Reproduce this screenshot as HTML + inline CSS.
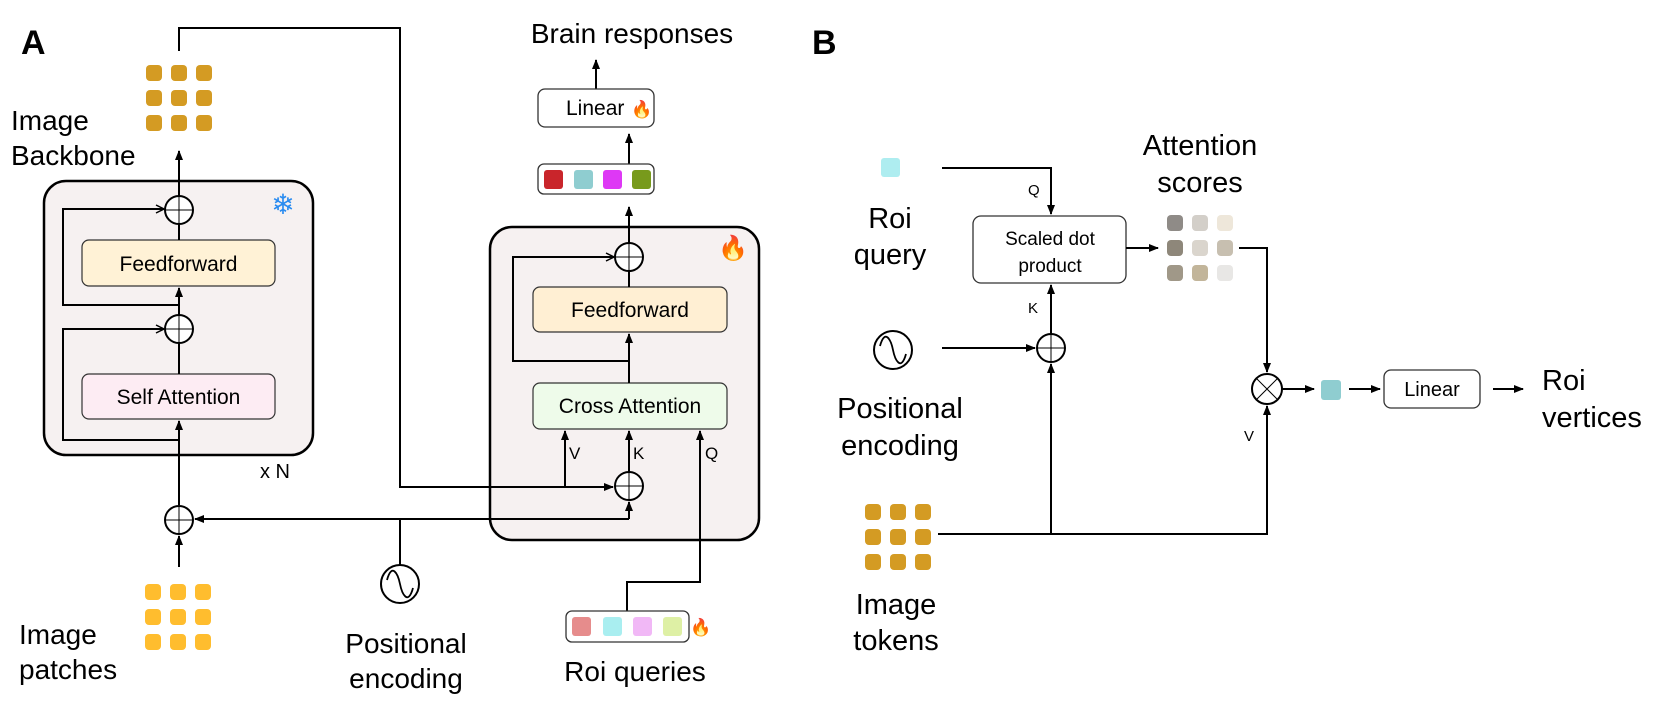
<!DOCTYPE html>
<html><head><meta charset="utf-8"><style>
html,body{margin:0;padding:0;background:#fff;}
svg{display:block;font-family:"Liberation Sans",sans-serif;}
</style></head><body>
<svg width="1661" height="703" viewBox="0 0 1661 703" xmlns="http://www.w3.org/2000/svg">
<defs>
<marker id="a" markerWidth="10" markerHeight="10" refX="9" refY="5" orient="auto" markerUnits="userSpaceOnUse"><path d="M0,1 L10,5 L0,9 Z" fill="#000"/></marker>
<marker id="o" markerWidth="10" markerHeight="10" refX="9" refY="5" orient="auto" markerUnits="userSpaceOnUse"><path d="M1,1 L9,5 L1,9" fill="none" stroke="#000" stroke-width="1.5"/></marker>
<g id="plus"><circle r="14" fill="#fff" stroke="#000" stroke-width="2"/><path d="M-14,0H14M0,-14V14" stroke="#000" stroke-width="1"/></g>
<g id="wave"><circle r="19" fill="#fff" stroke="#000" stroke-width="2"/><path d="M-13,-4 C-8,-22 -2,-10 0,0 C2,10 8,22 13,4" fill="none" stroke="#000" stroke-width="1.8"/></g>
</defs>

<g fill="#000" stroke="none">
<text x="21" y="54" font-size="34" font-weight="bold">A</text>
<text x="812" y="54" font-size="34" font-weight="bold">B</text>
</g>

<!-- Panel A boxes -->
<rect x="44" y="181" width="269" height="274" rx="22" fill="#F6F1F1" stroke="#000" stroke-width="2.5"/>
<rect x="490" y="227" width="269" height="313" rx="22" fill="#F6F1F1" stroke="#000" stroke-width="2.5"/>
<rect x="82" y="240" width="193" height="46" rx="7" fill="#FFF2D6" stroke="#333" stroke-width="1.2"/>
<text x="178.5" y="271" font-size="21" text-anchor="middle">Feedforward</text>
<rect x="82" y="374" width="193" height="45" rx="7" fill="#FDECF3" stroke="#333" stroke-width="1.2"/>
<text x="178.5" y="404" font-size="21" text-anchor="middle">Self Attention</text>
<g stroke="#000" stroke-width="2" fill="none">
<path d="M179,505 V421" marker-end="url(#a)"/>
<path d="M179,374 V343"/>
<path d="M179,315 V288" marker-end="url(#a)"/>
<path d="M179,240 V224"/>
<path d="M179,196 V151" marker-end="url(#a)"/>
<path d="M179,440 H63 V329 H164" marker-end="url(#o)"/>
<path d="M179,305 H63 V209 H164" marker-end="url(#o)"/>
<path d="M179,51 V28 H400 V487 H613" marker-end="url(#a)"/>
<path d="M629,519 H195" marker-end="url(#a)"/>
<path d="M629,519 V502" marker-end="url(#a)"/>
<path d="M400,519 V565"/>
<path d="M179,567 V536" marker-end="url(#a)"/>
</g>
<use href="#plus" x="179" y="210"/>
<use href="#plus" x="179" y="329"/>
<use href="#plus" x="179" y="520"/>
<use href="#wave" x="400" y="584"/>
<text x="283" y="214" font-size="28" fill="#2B8CF0" text-anchor="middle">❄</text>
<text x="260" y="478" font-size="20">x N</text>

<g fill="#D49B23">
<rect x="146" y="65" width="16" height="16" rx="4"/><rect x="171" y="65" width="16" height="16" rx="4"/><rect x="196" y="65" width="16" height="16" rx="4"/>
<rect x="146" y="90" width="16" height="16" rx="4"/><rect x="171" y="90" width="16" height="16" rx="4"/><rect x="196" y="90" width="16" height="16" rx="4"/>
<rect x="146" y="115" width="16" height="16" rx="4"/><rect x="171" y="115" width="16" height="16" rx="4"/><rect x="196" y="115" width="16" height="16" rx="4"/>
</g>
<g fill="#FFBD2E">
<rect x="145" y="584" width="16" height="16" rx="4"/><rect x="170" y="584" width="16" height="16" rx="4"/><rect x="195" y="584" width="16" height="16" rx="4"/>
<rect x="145" y="609" width="16" height="16" rx="4"/><rect x="170" y="609" width="16" height="16" rx="4"/><rect x="195" y="609" width="16" height="16" rx="4"/>
<rect x="145" y="634" width="16" height="16" rx="4"/><rect x="170" y="634" width="16" height="16" rx="4"/><rect x="195" y="634" width="16" height="16" rx="4"/>
</g>
<g font-size="28" fill="#000">
<text x="11" y="130">Image</text>
<text x="11" y="165">Backbone</text>
<text x="19" y="644">Image</text>
<text x="19" y="679">patches</text>
<text x="406" y="653" text-anchor="middle">Positional</text>
<text x="406" y="688" text-anchor="middle">encoding</text>
<text x="632" y="43" text-anchor="middle">Brain responses</text>
<text x="635" y="681" text-anchor="middle">Roi queries</text>
</g>

<!-- Panel A right box contents -->
<text x="733" y="256" font-size="24" text-anchor="middle">🔥</text>
<rect x="533" y="287" width="194" height="45" rx="7" fill="#FFEFD3" stroke="#333" stroke-width="1.2"/>
<text x="630" y="317" font-size="21" text-anchor="middle">Feedforward</text>
<rect x="533" y="383" width="194" height="46" rx="7" fill="#EEFBEA" stroke="#333" stroke-width="1.2"/>
<text x="630" y="413" font-size="21" text-anchor="middle">Cross Attention</text>
<g stroke="#000" stroke-width="2" fill="none">
<path d="M565,487 V431" marker-end="url(#a)"/>
<path d="M629,472 V431" marker-end="url(#a)"/>
<path d="M627,611 V582 H700 V431" marker-end="url(#a)"/>
<path d="M629,383 V334" marker-end="url(#a)"/>
<path d="M629,361 H513 V257 H614" marker-end="url(#o)"/>
<path d="M629,287 V271"/>
<path d="M629,243 V207" marker-end="url(#a)"/>
<path d="M629,174 V134" marker-end="url(#a)"/>
<path d="M596,94 V60" marker-end="url(#a)"/>
</g>
<use href="#plus" x="629" y="257"/>
<use href="#plus" x="629" y="486"/>
<g font-size="17"><text x="569" y="459">V</text><text x="633" y="459">K</text><text x="705" y="459">Q</text></g>
<rect x="538" y="89" width="116" height="38" rx="7" fill="#fff" stroke="#333" stroke-width="1.3"/>
<text x="566" y="115" font-size="21">Linear</text>
<text x="642" y="115" font-size="17" text-anchor="middle">🔥</text>
<rect x="538" y="164" width="116" height="30" rx="6" fill="#fff" stroke="#333" stroke-width="1.3"/>
<rect x="544" y="170" width="19" height="19" rx="3" fill="#C9252B"/>
<rect x="574" y="170" width="19" height="19" rx="3" fill="#8FCDD0"/>
<rect x="603" y="170" width="19" height="19" rx="3" fill="#DE38F5"/>
<rect x="632" y="170" width="19" height="19" rx="3" fill="#789A1C"/>
<rect x="566" y="611" width="123" height="31" rx="6" fill="#fff" stroke="#333" stroke-width="1.3"/>
<rect x="572" y="617" width="19" height="19" rx="3" fill="#E68C8C"/>
<rect x="603" y="617" width="19" height="19" rx="3" fill="#A9EEF0"/>
<rect x="633" y="617" width="19" height="19" rx="3" fill="#F1B8F6"/>
<rect x="663" y="617" width="19" height="19" rx="3" fill="#DEF0A5"/>
<text x="701" y="633" font-size="17" text-anchor="middle">🔥</text>

<!-- Panel B -->
<rect x="881" y="158" width="19" height="19" rx="3" fill="#AEEDF0"/>
<g font-size="29" fill="#000" text-anchor="middle">
<text x="890" y="228">Roi</text>
<text x="890" y="264">query</text>
<text x="900" y="418">Positional</text>
<text x="900" y="455">encoding</text>
<text x="896" y="614">Image</text>
<text x="896" y="650">tokens</text>
<text x="1200" y="155">Attention</text>
<text x="1200" y="192">scores</text>
</g>
<text x="1542" y="390" font-size="29">Roi</text>
<text x="1542" y="427" font-size="29">vertices</text>
<rect x="973" y="216" width="153" height="67" rx="8" fill="#fff" stroke="#333" stroke-width="1.3"/>
<text x="1050" y="245" font-size="19" text-anchor="middle">Scaled dot</text>
<text x="1050" y="272" font-size="19" text-anchor="middle">product</text>
<g stroke="#000" stroke-width="2" fill="none">
<path d="M942,168 H1051 V214" marker-end="url(#a)"/>
<path d="M1126,248 H1158" marker-end="url(#a)"/>
<path d="M942,348 H1035" marker-end="url(#a)"/>
<path d="M1051,334 V285" marker-end="url(#a)"/>
<path d="M1051,534 V364" marker-end="url(#a)"/>
<path d="M938,534 H1267 V406" marker-end="url(#a)"/>
<path d="M1239,248 H1267 V372" marker-end="url(#a)"/>
<path d="M1282,389 H1314" marker-end="url(#a)"/>
<path d="M1349,389 H1380" marker-end="url(#a)"/>
<path d="M1493,389 H1523" marker-end="url(#a)"/>
</g>
<use href="#plus" x="1051" y="348"/>
<use href="#wave" x="893" y="350"/>
<g><circle cx="1267" cy="389" r="15" fill="#fff" stroke="#000" stroke-width="2"/><path d="M1256.4,378.4 L1277.6,399.6 M1277.6,378.4 L1256.4,399.6" stroke="#000" stroke-width="1"/></g>
<g font-size="15"><text x="1028" y="195">Q</text><text x="1028" y="313">K</text><text x="1244" y="441">V</text></g>
<rect x="1321" y="380" width="20" height="20" rx="3" fill="#8FCDD0"/>
<rect x="1384" y="370" width="96" height="38" rx="7" fill="#fff" stroke="#333" stroke-width="1.3"/>
<text x="1432" y="396" font-size="20" text-anchor="middle">Linear</text>
<g>
<rect x="1167" y="215" width="16" height="16" rx="4" fill="#8F8B87"/><rect x="1192" y="215" width="16" height="16" rx="4" fill="#D3CFC9"/><rect x="1217" y="215" width="16" height="16" rx="4" fill="#EEE7DA"/>
<rect x="1167" y="240" width="16" height="16" rx="4" fill="#8E877A"/><rect x="1192" y="240" width="16" height="16" rx="4" fill="#DAD5CD"/><rect x="1217" y="240" width="16" height="16" rx="4" fill="#C7BFB0"/>
<rect x="1167" y="265" width="16" height="16" rx="4" fill="#A09888"/><rect x="1192" y="265" width="16" height="16" rx="4" fill="#C2B59A"/><rect x="1217" y="265" width="16" height="16" rx="4" fill="#E8E7E5"/>
</g>
<g fill="#D49B23">
<rect x="865" y="504" width="16" height="16" rx="4"/><rect x="890" y="504" width="16" height="16" rx="4"/><rect x="915" y="504" width="16" height="16" rx="4"/>
<rect x="865" y="529" width="16" height="16" rx="4"/><rect x="890" y="529" width="16" height="16" rx="4"/><rect x="915" y="529" width="16" height="16" rx="4"/>
<rect x="865" y="554" width="16" height="16" rx="4"/><rect x="890" y="554" width="16" height="16" rx="4"/><rect x="915" y="554" width="16" height="16" rx="4"/>
</g>
</svg>
</body></html>
